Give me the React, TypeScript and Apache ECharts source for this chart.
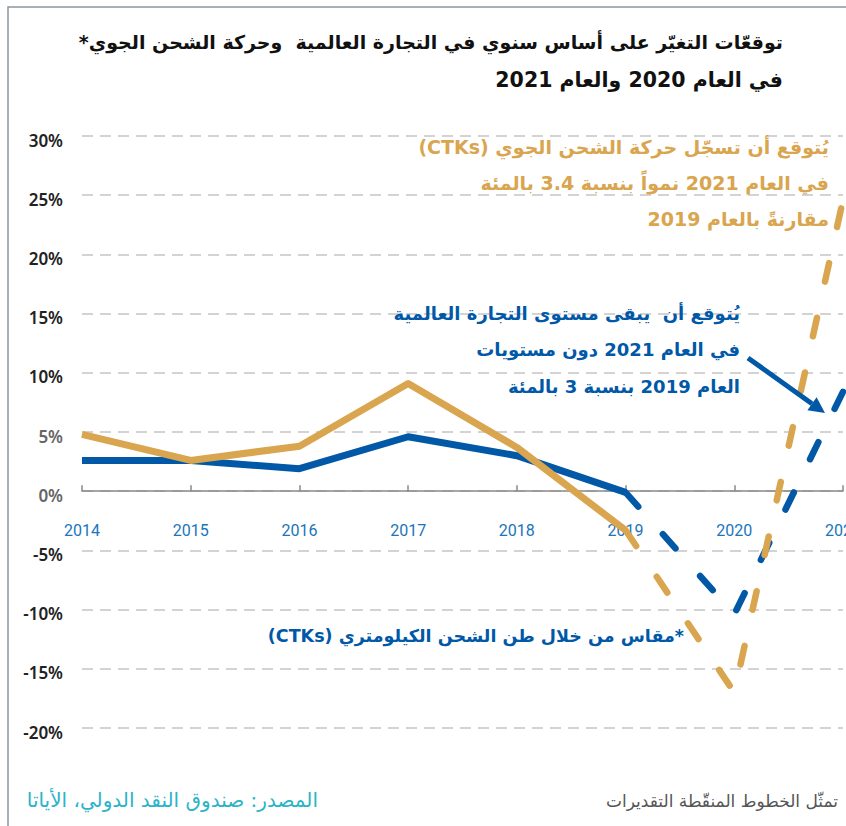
import React, { useEffect, useRef } from "react";
import * as echarts from "echarts";

const years = ["2014", "2015", "2016", "2017", "2018", "2019", "2020", "2021"];
const cargoActual = [4.8, 2.6, 3.8, 9.1, 3.7, -3.3, null, null];
const cargoForecast = [null, null, null, null, null, -3.3, -17.0, 24.6];
const tradeActual = [2.6, 2.6, 1.9, 4.6, 3.0, -0.1, null, null];
const tradeForecast = [null, null, null, null, null, -0.1, -10.4, 8.4];

const titleLines = [
  "توقعّات التغيّر على أساس سنوي في التجارة العالمية  وحركة الشحن الجوي*",
  "في العام 2020 والعام 2021",
];
const cargoNote = [
  "يُتوقع أن تسجّل حركة الشحن الجوي (CTKs)",
  "في العام 2021 نمواً بنسبة 3.4 بالمئة",
  "مقارنةً بالعام 2019",
];
const tradeNote = [
  "يُتوقع أن  يبقى مستوى التجارة العالمية",
  "في العام 2021 دون مستويات",
  "العام 2019 بنسبة 3 بالمئة",
];
const footnote = "*مقاس من خلال طن الشحن الكيلومتري (CTKs)";
const dottedNote = "تمثّل الخطوط المنقّطة التقديرات";
const sourceNote = "المصدر: صندوق النقد الدولي، الأياتا";

const GOLD = "#D9A54F";
const BLUE = "#0058A7";
const AR = "'DejaVu Sans', 'Noto Sans', sans-serif";
const rtl = (s: string) => "\u202B" + s + "\u202C";

export default function App() {
  const ref = useRef<HTMLDivElement>(null);
  useEffect(() => {
    if (!ref.current) return;
    const chart = echarts.init(ref.current, null, { renderer: "svg" });
    const textEl = (s: string, x: number, y: number, size: number, color: string, weight: string, align = "right") => ({
      type: "text",
      x,
      y,
      style: {
        text: rtl(s),
        fill: color,
        font: `${weight} ${size}px ${AR}`,
        textAlign: align,
        textVerticalAlign: "middle",
      },
      z: 100,
    });
    const graphics: any[] = [
      {
        type: "rect",
        shape: { x: 8, y: 7, width: 900, height: 900 },
        style: { fill: "none", stroke: "#8C95A0", lineWidth: 1.5 },
        z: 0,
      },
      textEl(titleLines[0], 783, 42, 19, "#111", "bold"),
      textEl(titleLines[1], 783, 80, 20.5, "#111", "bold"),
      ...cargoNote.map((s, i) => textEl(s, 829, 147 + i * 36, 19, GOLD, "bold")),
      ...tradeNote.map((s, i) => textEl(s, 740, 313 + i * 36.5, 18, BLUE, "bold")),
      textEl(footnote, 684, 636, 17.5, BLUE, "bold"),
      textEl(dottedNote, 838, 801, 17, "#555", "normal"),
      textEl(sourceNote, 318, 800, 20, "#2BB3C9", "normal"),
      {
        type: "line",
        shape: { x1: 748, y1: 358, x2: 812, y2: 403.7 },
        style: { stroke: BLUE, lineWidth: 5 },
        z: 100,
      },
      {
        type: "polygon",
        shape: { points: [[825, 413], [807.4, 410.2], [816.6, 397.2]] },
        style: { fill: BLUE },
        z: 100,
      },
    ];

    const lineSeries = (name: string, data: any[], color: string, dashed: boolean, z: number) => ({
      name,
      type: "line",
      data,
      showSymbol: false,
      symbol: "none",
      connectNulls: false,
      z,
      lineStyle: {
        color,
        width: dashed ? 6.5 : 7,
        type: dashed ? [19, 37] : "solid",
        cap: dashed ? "round" : "butt",
        join: "round",
      },
    });

    chart.setOption({
      animation: false,
      grid: { left: 82, right: 3, top: 136, bottom: 98, containLabel: false, outerBoundsMode: "none" },
      xAxis: {
        type: "category",
        data: years,
        boundaryGap: false,
        position: "bottom",
        offset: -236.8,
        axisLine: { onZero: false, lineStyle: { color: "#888", width: 1.5 } },
        axisTick: { show: true, inside: true, length: 6, lineStyle: { color: "#888", width: 1.5 } },
        axisLabel: { color: "#1A75BC", fontSize: 16, fontFamily: "Roboto", margin: 31 },
        splitLine: { show: false },
      },
      yAxis: {
        type: "value",
        min: -20,
        max: 30,
        interval: 5,
        axisLine: { show: false },
        axisTick: { show: false },
        axisLabel: {
          margin: 19,
          fontSize: 17,
          fontFamily: "'Noto Sans', sans-serif",
          fontWeight: 600,
          color: "#222",
          padding: [8, 0, 0, 0],
          formatter: (v: number) => (v === 0 || v === 5 ? `{g|${v}%}` : `${v}%`),
          rich: { g: { color: "#666", fontSize: 17, fontWeight: 600, fontFamily: "'Noto Sans', sans-serif" } },
        },
        splitLine: { show: true, lineStyle: { color: "#D3D3D3", width: 2, type: [11, 7] } },
      },
      series: [
        lineSeries("trade", tradeActual, BLUE, false, 2),
        lineSeries("trade forecast", tradeForecast, BLUE, true, 2),
        lineSeries("cargo", cargoActual, GOLD, false, 3),
        lineSeries("cargo forecast", cargoForecast, GOLD, true, 3),
      ],
      graphic: graphics,
    });
    return () => chart.dispose();
  }, []);
  return <div ref={ref} style={{ position: "fixed", left: 0, top: 0, width: 846, height: 826, background: "#fff" }} />;
}
